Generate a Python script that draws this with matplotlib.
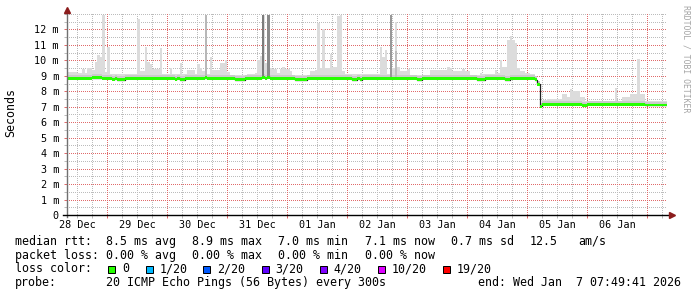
import datetime as dt
import matplotlib
matplotlib.use("Agg")
import matplotlib.pyplot as plt
import matplotlib.dates as mdates
import matplotlib.ticker as mticker
from matplotlib.colors import to_rgba
from matplotlib.patches import Rectangle
import numpy as np

### CONSTANTS ###
W, H = 697, 297
FONT = "DejaVu Sans Mono"
MGRID = "#e06a6a"
GRID = "#bcbcbc"
end_time = dt.datetime(2026, 1, 7, 7, 49, 41)
start_time = end_time - dt.timedelta(days=10)

# hourly median rtt in ms, one row per 24 h
median_rows = [
    [8.85]*10 + [8.88]*4 + [8.85]*4 + [8.77, 8.85] + [8.76]*3 + [8.85],
    [8.85]*19 + [8.77, 8.85, 8.76, 8.76, 8.85],
    [8.85]*7 + [8.88] + [8.85]*11 + [8.76]*4 + [8.85],
    [8.85]*6 + [8.90, 8.85, 8.90] + [8.85]*10 + [8.76]*5,
    [8.85]*18 + [8.76, 8.76, 8.85, 8.76, 8.85, 8.85],
    [8.85]*20 + [8.76, 8.76, 8.85, 8.85],
    [8.85]*20 + [8.76]*3 + [8.85],
    [8.85]*7 + [8.76]*2 + [8.85]*3 + [8.84]*7 + [8.75, 8.45, 7.02, 7.15, 7.15],
    [7.15]*14 + [7.10]*2 + [7.15]*8,
    [7.15]*15 + [7.12]*9,
]

# hourly max of the smoke (slowest ping), ms
smoke_rows = [
    [9.25]*4 + [9.2]*2 + [9.44, 9.2, 9.5, 9.5, 9.4, 9.9, 10.33, 10.2, 12.95, 9.25, 10.85] + [9.1]*6 + [9.15],
    [9.15]*4 + [12.7, 9.3, 9.3, 10.85, 9.9, 9.75] + [9.45]*3 + [10.8] + [9.1]*3 + [9.5] + [9.1]*3 + [9.8, 9.1, 9.1],
    [9.35]*3 + [9.1, 9.75, 9.5, 9.3, 12.95, 9.1, 10.2] + [9.35]*3 + [9.8, 9.8, 10.05, 9.25] + [9.08]*7,
    [9.1]*3 + [9.2, 10.0, 10.3, 12.95, 9.8, 12.95, 9.5, 9.45, 9.45, 9.2, 9.45, 9.55, 9.45, 9.45, 9.3] + [9.05]*6,
    [9.05, 9.3, 9.3, 9.35, 12.45, 9.5, 12.0, 9.5, 9.5, 10.4, 9.6, 9.6, 12.9, 12.95, 9.3, 9.1, 9.15] + [9.1]*7,
    [9.15]*5 + [10.85, 10.2, 10.7, 9.1, 12.95, 9.5, 12.5, 9.55] + [9.3]*3 + [9.45] + [9.05]*7,
    [9.05, 9.35, 9.35] + [9.4]*5 + [9.6, 9.5] + [9.3]*4 + [9.45, 9.3, 9.3] + [9.05]*4 + [9.2, 9.15, 9.15],
    [9.15]*3 + [9.35, 9.2, 10.05, 9.55, 9.55, 11.3, 11.6, 11.3, 11.1, 9.5, 9.3, 9.3, 9.2, 9.2,
                9.1, 9.1, 8.95, 8.6, 7.25, 7.45, 7.45],
    [7.5]*6 + [7.8, 7.8, 7.65, 8.15, 8.0, 8.0, 8.0, 7.6, 7.6] + [7.4]*9,
    [7.4]*3 + [8.2, 7.4, 7.4] + [7.6]*3 + [7.8]*3 + [10.1, 7.85, 7.85, 7.4, 7.4] + [7.35]*7,
]

# hours where the smoke is dense (darker gray columns)
dark_idx = [55, 78, 80, 129, 131]
dark_top = [12.95, 12.95, 12.95, 12.95, 10.6]
dark_shade = ["#b8b8b8", "#7c7c7c", "#8a8a8a", "#989898", "#bdbdbd"]

stat_rows = [
    ("median rtt:", ["8.5 ms avg", "8.9 ms max", "7.0 ms min", "7.1 ms now", "0.7 ms sd", "12.5", "am/s"]),
    ("packet loss:", ["0.00 % avg", "0.00 % max", "0.00 % min", "0.00 % now"]),
]
stat_x = [106.5, 192.5, 278.5, 365.2, 450.9, 529.9, 578.5]

loss_labels = ["0", "1/20", "2/20", "3/20", "4/20", "10/20", "19/20"]
loss_colors = ["#26ff00", "#00b8ff", "#0059ff", "#5e00ff", "#7e00ff", "#dd00ff", "#ff0000"]
box_x = [108.3, 146.0, 203.3, 261.7, 320.0, 378.3, 442.7]

probe_text = "20 ICMP Echo Pings (56 Bytes) every 300s"
end_text = "end: Wed Jan  7 07:49:41 2026"


def px(x, y):
    return x / W, 1 - y / H


def dotted_grid(fig, ax):
    # rrdtool style 1-pixel dotted grid, put on the figure pixel by pixel
    fig.canvas.draw()
    bb = ax.bbox
    w, h = int(round(bb.width)), int(round(bb.height))
    img = np.zeros((h, w, 4), dtype=np.uint8)
    x0, x1 = ax.get_xlim()
    y0, y1 = ax.get_ylim()
    minor_c = np.round(np.array(to_rgba(GRID)) * 255).astype(np.uint8)
    major_c = np.round(np.array(to_rgba(MGRID)) * 255).astype(np.uint8)
    lines = [(ax.xaxis.get_minorticklocs(), minor_c, "x"), (ax.yaxis.get_minorticklocs(), minor_c, "y"),
             (ax.xaxis.get_majorticklocs(), major_c, "x"), (ax.yaxis.get_majorticklocs(), major_c, "y")]
    for locs, col, kind in lines:
        for v in locs:
            if kind == "x":
                c = int(ax.transData.transform((v, y0))[0] - bb.x0)
                if 0 <= c < w:
                    img[h - 1::-2, c, :] = col
            else:
                r = int(round(bb.y1 - ax.transData.transform((x0, v))[1]))
                if 0 <= r < h:
                    img[r, 0::2, :] = col
    ax.patch.set_visible(False)
    fig.figimage(img, xo=int(round(bb.x0)), yo=int(round(bb.y0)), origin="upper", zorder=-1)


def main():
    median = np.array(sum(median_rows, []))
    smoke = np.array(sum(smoke_rows, []))
    n = len(median)
    t = mdates.date2num([start_time + dt.timedelta(hours=h) for h in range(n + 1)])
    med = np.append(median, median[-1])
    smk = np.append(smoke, smoke[-1])

    fig = plt.figure(figsize=(W / 100, H / 100), dpi=100)
    ax = fig.add_axes([67 / W, (H - 215) / H, 600 / W, 201 / H])

    # smoke
    ax.fill_between(t, med - 0.05, smk, step="post", color="#dcdcdc", lw=0, zorder=2)
    ax.fill_between(t, med, med + 0.22, step="post", color="#cbcbcb", lw=0, zorder=2)
    for i, top, c in zip(dark_idx, dark_top, dark_shade):
        ax.bar(t[i], top - median[i], bottom=median[i], width=t[i + 1] - t[i],
               align="edge", color=c, lw=0, zorder=3)

    # median line, coloured by loss
    ax.step(t, med, where="post", color="#202020", lw=0.9, zorder=4)
    ax.fill_between(t, med - 0.087, med + 0.087, step="post", color=loss_colors[0], lw=0, zorder=5)

    ax.set_xlim(t[0], t[-1])
    ax.set_ylim(0, 13)

    ax.yaxis.set_major_locator(mticker.FixedLocator(range(0, 13)))
    ax.yaxis.set_minor_locator(mticker.MultipleLocator(0.5))
    ax.yaxis.set_major_formatter(mticker.FuncFormatter(lambda v, p: "0" if v == 0 else "%d m" % v))
    ax.xaxis.set_major_locator(mdates.DayLocator())
    ax.xaxis.set_minor_locator(mdates.HourLocator(byhour=[6, 12, 18]))
    ax.xaxis.set_major_formatter(mticker.NullFormatter())
    ax.xaxis.set_minor_formatter(mticker.FuncFormatter(
        lambda v, p: mdates.num2date(v).strftime("%d %b") if mdates.num2date(v).hour == 12 else ""))

    for s in ax.spines.values():
        s.set_visible(False)
    ax.tick_params(which="both", direction="out", length=2.2, width=0.72, labelsize=7.3,
                   labelfontfamily=FONT)
    ax.tick_params(which="major", color=MGRID)
    ax.tick_params(which="minor", color=GRID)
    ax.tick_params(axis="y", which="both", pad=3.6)
    ax.tick_params(axis="x", which="both", pad=1.2)

    dotted_grid(fig, ax)

    # axes with arrows
    ax.plot([0, 0], [-0.012, 1.01], transform=ax.transAxes, clip_on=False, color="#707070", lw=1, zorder=6)
    ax.plot([-0.006, 1.006], [0, 0], transform=ax.transAxes, clip_on=False, color="black", lw=1, zorder=6)
    ax.plot([0], [1.018], transform=ax.transAxes, clip_on=False, marker="^", ms=4.2,
            color="#8b1c1c", zorder=7)
    ax.plot([1.008], [0], transform=ax.transAxes, clip_on=False, marker=">", ms=4.2,
            color="#8b1c1c", zorder=7)

    fig.text(*px(11, 113), "Seconds", rotation=90, ha="center", va="center",
             family=FONT, fontsize=8.4)
    fig.text(*px(686, 5), "RRDTOOL / TOBI OETIKER", rotation=270, ha="center", va="top",
             family=FONT, fontsize=5.9, color="#a4a4a4")

    # legend
    base = [245, 258.6, 272.3, 286]
    for (head, items), y in zip(stat_rows, base):
        fig.text(*px(15.3, y), head, family=FONT, fontsize=8.4, va="baseline")
        for txt, x in zip(items, stat_x):
            fig.text(*px(x, y), txt, family=FONT, fontsize=8.4, va="baseline")
    fig.text(*px(15.3, base[2]), "loss color:", family=FONT, fontsize=8.4, va="baseline")
    for lab, col, x in zip(loss_labels, loss_colors, box_x):
        x0, y0 = px(x, 273.3)
        fig.add_artist(Rectangle((x0, y0), 7 / W, 7 / H, transform=fig.transFigure,
                                 facecolor=col, edgecolor="black", lw=0.72))
        fig.text(*px(x + 13.6, base[2]), lab, family=FONT, fontsize=8.4, va="baseline")
    fig.text(*px(15.3, base[3]), "probe:", family=FONT, fontsize=8.4, va="baseline")
    fig.text(*px(106.5, base[3]), probe_text, family=FONT, fontsize=8.4, va="baseline")
    fig.text(*px(681.5, base[3]), end_text, family=FONT, fontsize=8.4, va="baseline", ha="right")

    fig.savefig("out.png", dpi=100, facecolor="white")


if __name__ == "__main__":
    main()
